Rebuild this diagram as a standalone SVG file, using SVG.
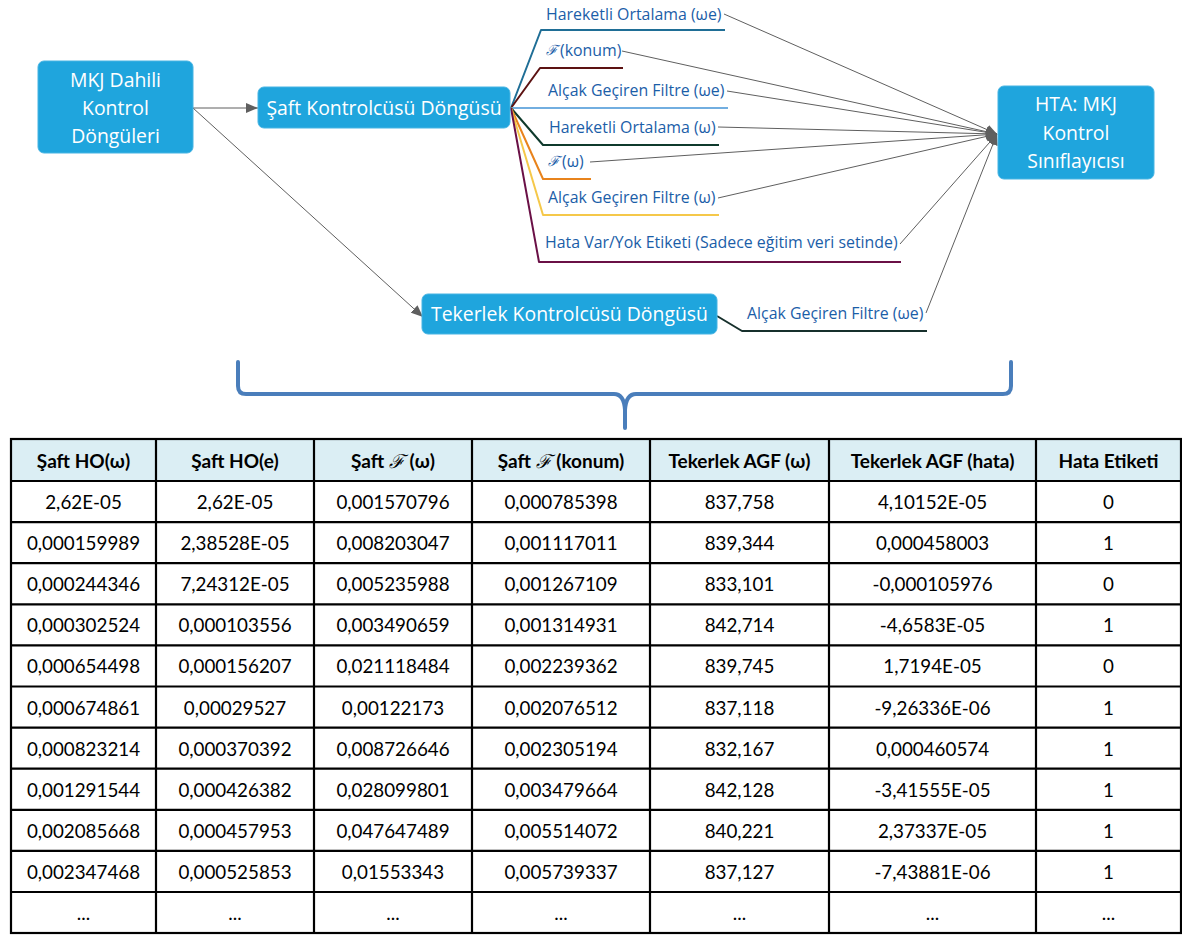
<svg xmlns="http://www.w3.org/2000/svg" width="1182" height="935" viewBox="0 0 1182 935">
  <style>
    .node rect { fill: #1fa5dd; stroke: #47b4e3; stroke-width: 1; }
    .node text { fill: #ffffff; font-family: "Open Sans", "Noto Sans", sans-serif; font-size: 19.4px; text-anchor: middle; dominant-baseline: central; }
    .lbl { fill: #1b5ea8; font-family: "Open Sans", "Noto Sans", sans-serif; font-size: 15.9px; dominant-baseline: central; }
    .scr { font-family: "DejaVu Serif", serif; font-style: italic; font-size: 14px; }
    .branch { fill: none; stroke-width: 2; stroke-linejoin: round; }
    .link { fill: none; stroke: #5f5f5f; stroke-width: 1; }
    .tbl { stroke: #000000; stroke-width: 2.2; fill: none; }
    .th { font-family: "Lato", "Liberation Sans", sans-serif; font-weight: bold; font-size: 19px; text-anchor: middle; dominant-baseline: central; fill: #000; }
    .td { font-family: "Lato", "Liberation Sans", sans-serif; font-size: 18.8px; text-anchor: middle; dominant-baseline: central; fill: #000; }
    .hs { font-family: "DejaVu Serif", serif; font-style: italic; font-weight: normal; }
  </style>
  <defs>
    <marker id="arr" viewBox="0 0 12 10" refX="12" refY="5" markerWidth="12" markerHeight="10" markerUnits="userSpaceOnUse" orient="auto">
      <path d="M0,0 L12,5 L0,10 Z" fill="#5f5f5f"/>
    </marker>
    <marker id="arrs" viewBox="0 0 12 12" refX="11" refY="6" markerWidth="12" markerHeight="12" markerUnits="userSpaceOnUse" orient="auto">
      <path d="M0,1 L11,6 L0,11 Z" fill="#5f5f5f"/>
    </marker>
  </defs>

  <rect width="1182" height="935" fill="#ffffff"/>

  <!-- connectors -->
  <g id="connectors">
    <line class="link" x1="193" y1="108" x2="258" y2="108" marker-end="url(#arr)"/>
    <line class="link" x1="193" y1="108" x2="423" y2="317" marker-end="url(#arr)"/>

    <!-- branches out of the shaft loop -->
    <polyline class="branch" stroke="#1f6e96" points="511,108 541,30 725,30"/>
    <polyline class="branch" stroke="#5c1212" points="511,108 540,68 623,68"/>
    <polyline class="branch" stroke="#72aee0" points="511,108 728,108"/>
    <polyline class="branch" stroke="#0f3a2c" points="511,108 543,145 719,145"/>
    <polyline class="branch" stroke="#e8831c" points="511,108 543,179 591,179"/>
    <polyline class="branch" stroke="#f5c84a" points="511,108 543,215 719,215"/>
    <polyline class="branch" stroke="#6a1046" points="511,108 539,262 901,262"/>
    <!-- branch out of the wheel loop -->
    <polyline class="branch" stroke="#17302c" points="717,316 742,331 927,331"/>

    <!-- feature links into the classifier -->
    <line class="link" x1="724" y1="14" x2="997" y2="134" marker-end="url(#arrs)"/>
    <line class="link" x1="622" y1="51" x2="997" y2="134" marker-end="url(#arrs)"/>
    <line class="link" x1="727" y1="91" x2="997" y2="134" marker-end="url(#arrs)"/>
    <line class="link" x1="718" y1="127" x2="997" y2="134" marker-end="url(#arrs)"/>
    <line class="link" x1="590" y1="162" x2="997" y2="134" marker-end="url(#arrs)"/>
    <line class="link" x1="718" y1="198" x2="997" y2="134" marker-end="url(#arrs)"/>
    <line class="link" x1="900" y1="244" x2="997" y2="134" marker-end="url(#arrs)"/>
    <line class="link" x1="926" y1="313" x2="997" y2="134" marker-end="url(#arrs)"/>
  </g>

  <!-- branch labels -->
  <g id="labels">
    <text class="lbl" x="546" y="14">Hareketli Ortalama (ωe)</text>
    <text class="lbl" x="546" y="50"><tspan class="scr">ℱ</tspan><tspan dx="2">(konum)</tspan></text>
    <text class="lbl" x="548" y="90">Alçak Geçiren Filtre (ωe)</text>
    <text class="lbl" x="549" y="127">Hareketli Ortalama (ω)</text>
    <text class="lbl" x="548" y="161"><tspan class="scr">ℱ</tspan><tspan dx="2">(ω)</tspan></text>
    <text class="lbl" x="548" y="197">Alçak Geçiren Filtre (ω)</text>
    <text class="lbl" x="545" y="242">Hata Var/Yok Etiketi (Sadece eğitim veri setinde)</text>
    <text class="lbl" x="747" y="313">Alçak Geçiren Filtre (ωe)</text>
  </g>

  <!-- nodes -->
  <g id="node-mkj" class="node">
    <rect x="38" y="61" width="155" height="92" rx="6"/>
    <text x="115.5" y="79">MKJ Dahili</text>
    <text x="115.5" y="107">Kontrol</text>
    <text x="115.5" y="135">Döngüleri</text>
  </g>
  <g id="node-saft" class="node">
    <rect x="258" y="87" width="252" height="41" rx="6"/>
    <text x="384" y="107.5">Şaft Kontrolcüsü Döngüsü</text>
  </g>
  <g id="node-tekerlek" class="node">
    <rect x="422" y="294" width="295" height="40" rx="6"/>
    <text x="569.5" y="313.5">Tekerlek Kontrolcüsü Döngüsü</text>
  </g>
  <g id="node-hta" class="node">
    <rect x="998" y="86" width="156" height="93" rx="6"/>
    <text x="1076" y="103">HTA: MKJ</text>
    <text x="1076" y="132">Kontrol</text>
    <text x="1076" y="160">Sınıflayıcısı</text>
  </g>

  <!-- brace grouping the table -->
  <path d="M238,362 V386 Q238,394 246,394 H614 Q624,394 625,410 V428 M625,410 Q626,394 636,394 H1003 Q1011,394 1011,386 V362" fill="none" stroke="#4a7ebb" stroke-width="4" stroke-linecap="round" stroke-linejoin="round"/>

  <!-- data table -->
  <g id="table">
    <rect x="11" y="439" width="1170" height="42" fill="#dbeef4"/>
    <g class="tbl">
      <rect x="11" y="439" width="1170" height="494"/>
      <line x1="11" y1="481" x2="1181" y2="481"/>
      <line x1="11" y1="522.1" x2="1181" y2="522.1"/>
      <line x1="11" y1="563.2" x2="1181" y2="563.2"/>
      <line x1="11" y1="604.3" x2="1181" y2="604.3"/>
      <line x1="11" y1="645.4" x2="1181" y2="645.4"/>
      <line x1="11" y1="686.5" x2="1181" y2="686.5"/>
      <line x1="11" y1="727.6" x2="1181" y2="727.6"/>
      <line x1="11" y1="768.7" x2="1181" y2="768.7"/>
      <line x1="11" y1="809.8" x2="1181" y2="809.8"/>
      <line x1="11" y1="850.9" x2="1181" y2="850.9"/>
      <line x1="11" y1="892" x2="1181" y2="892"/>
      <line x1="156" y1="439" x2="156" y2="933"/>
      <line x1="314" y1="439" x2="314" y2="933"/>
      <line x1="472" y1="439" x2="472" y2="933"/>
      <line x1="650" y1="439" x2="650" y2="933"/>
      <line x1="829" y1="439" x2="829" y2="933"/>
      <line x1="1036" y1="439" x2="1036" y2="933"/>
    </g>

    <g>
      <text class="th" x="83.5" y="460.5">Şaft HO(ω)</text>
      <text class="th" x="235" y="460.5">Şaft HO(e)</text>
      <text class="th" x="393" y="460.5">Şaft <tspan class="hs">ℱ</tspan> (ω)</text>
      <text class="th" x="561" y="460.5">Şaft <tspan class="hs">ℱ</tspan> (konum)</text>
      <text class="th" x="739.5" y="460.5">Tekerlek AGF (ω)</text>
      <text class="th" x="932.5" y="460.5">Tekerlek AGF (hata)</text>
      <text class="th" x="1108.5" y="460.5">Hata Etiketi</text>
    </g>

    <g id="row1">
      <text class="td" x="83.5" y="501.5">2,62E-05</text>
      <text class="td" x="235" y="501.5">2,62E-05</text>
      <text class="td" x="393" y="501.5">0,001570796</text>
      <text class="td" x="561" y="501.5">0,000785398</text>
      <text class="td" x="739.5" y="501.5">837,758</text>
      <text class="td" x="932.5" y="501.5">4,10152E-05</text>
      <text class="td" x="1108.5" y="501.5">0</text>
    </g>
    <g id="row2">
      <text class="td" x="83.5" y="542.6">0,000159989</text>
      <text class="td" x="235" y="542.6">2,38528E-05</text>
      <text class="td" x="393" y="542.6">0,008203047</text>
      <text class="td" x="561" y="542.6">0,001117011</text>
      <text class="td" x="739.5" y="542.6">839,344</text>
      <text class="td" x="932.5" y="542.6">0,000458003</text>
      <text class="td" x="1108.5" y="542.6">1</text>
    </g>
    <g id="row3">
      <text class="td" x="83.5" y="583.7">0,000244346</text>
      <text class="td" x="235" y="583.7">7,24312E-05</text>
      <text class="td" x="393" y="583.7">0,005235988</text>
      <text class="td" x="561" y="583.7">0,001267109</text>
      <text class="td" x="739.5" y="583.7">833,101</text>
      <text class="td" x="932.5" y="583.7">-0,000105976</text>
      <text class="td" x="1108.5" y="583.7">0</text>
    </g>
    <g id="row4">
      <text class="td" x="83.5" y="624.8">0,000302524</text>
      <text class="td" x="235" y="624.8">0,000103556</text>
      <text class="td" x="393" y="624.8">0,003490659</text>
      <text class="td" x="561" y="624.8">0,001314931</text>
      <text class="td" x="739.5" y="624.8">842,714</text>
      <text class="td" x="932.5" y="624.8">-4,6583E-05</text>
      <text class="td" x="1108.5" y="624.8">1</text>
    </g>
    <g id="row5">
      <text class="td" x="83.5" y="665.9">0,000654498</text>
      <text class="td" x="235" y="665.9">0,000156207</text>
      <text class="td" x="393" y="665.9">0,021118484</text>
      <text class="td" x="561" y="665.9">0,002239362</text>
      <text class="td" x="739.5" y="665.9">839,745</text>
      <text class="td" x="932.5" y="665.9">1,7194E-05</text>
      <text class="td" x="1108.5" y="665.9">0</text>
    </g>
    <g id="row6">
      <text class="td" x="83.5" y="707">0,000674861</text>
      <text class="td" x="235" y="707">0,00029527</text>
      <text class="td" x="393" y="707">0,00122173</text>
      <text class="td" x="561" y="707">0,002076512</text>
      <text class="td" x="739.5" y="707">837,118</text>
      <text class="td" x="932.5" y="707">-9,26336E-06</text>
      <text class="td" x="1108.5" y="707">1</text>
    </g>
    <g id="row7">
      <text class="td" x="83.5" y="748.1">0,000823214</text>
      <text class="td" x="235" y="748.1">0,000370392</text>
      <text class="td" x="393" y="748.1">0,008726646</text>
      <text class="td" x="561" y="748.1">0,002305194</text>
      <text class="td" x="739.5" y="748.1">832,167</text>
      <text class="td" x="932.5" y="748.1">0,000460574</text>
      <text class="td" x="1108.5" y="748.1">1</text>
    </g>
    <g id="row8">
      <text class="td" x="83.5" y="789.2">0,001291544</text>
      <text class="td" x="235" y="789.2">0,000426382</text>
      <text class="td" x="393" y="789.2">0,028099801</text>
      <text class="td" x="561" y="789.2">0,003479664</text>
      <text class="td" x="739.5" y="789.2">842,128</text>
      <text class="td" x="932.5" y="789.2">-3,41555E-05</text>
      <text class="td" x="1108.5" y="789.2">1</text>
    </g>
    <g id="row9">
      <text class="td" x="83.5" y="830.3">0,002085668</text>
      <text class="td" x="235" y="830.3">0,000457953</text>
      <text class="td" x="393" y="830.3">0,047647489</text>
      <text class="td" x="561" y="830.3">0,005514072</text>
      <text class="td" x="739.5" y="830.3">840,221</text>
      <text class="td" x="932.5" y="830.3">2,37337E-05</text>
      <text class="td" x="1108.5" y="830.3">1</text>
    </g>
    <g id="row10">
      <text class="td" x="83.5" y="871.4">0,002347468</text>
      <text class="td" x="235" y="871.4">0,000525853</text>
      <text class="td" x="393" y="871.4">0,01553343</text>
      <text class="td" x="561" y="871.4">0,005739337</text>
      <text class="td" x="739.5" y="871.4">837,127</text>
      <text class="td" x="932.5" y="871.4">-7,43881E-06</text>
      <text class="td" x="1108.5" y="871.4">1</text>
    </g>
    <g id="row11">
      <text class="td" x="83.5" y="912.5">...</text>
      <text class="td" x="235" y="912.5">...</text>
      <text class="td" x="393" y="912.5">...</text>
      <text class="td" x="561" y="912.5">...</text>
      <text class="td" x="739.5" y="912.5">...</text>
      <text class="td" x="932.5" y="912.5">...</text>
      <text class="td" x="1108.5" y="912.5">...</text>
    </g>
  </g>
</svg>
